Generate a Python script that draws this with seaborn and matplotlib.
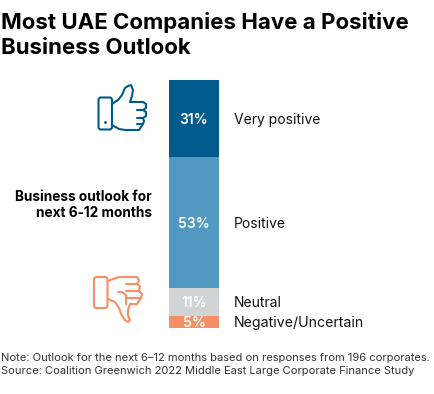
import matplotlib
matplotlib.use('Agg')
import matplotlib.pyplot as plt
from matplotlib.patches import FancyBboxPatch, Circle
import pandas as pd
import seaborn as sns

labels = ['Very positive', 'Positive', 'Neutral', 'Negative/Uncertain']
values = [31, 53, 11, 5]
colors = ['#005A8C', '#5299C1', '#D1D3D4', '#F68F65']
value_text = ['31%', '53%', '11%', '5%']

sns.set_theme(style='white')
plt.rcParams['font.family'] = ['Inter', 'DejaVu Sans']

W, H = 434, 394
fig = plt.figure(figsize=(W / 100, H / 100), dpi=100)

# bar axes, placed in pixels
ax = fig.add_axes([169 / W, 1 - 328 / H, 50 / W, 248 / H])
df = pd.DataFrame({'group': ['a'] * 4, 'label': labels, 'value': values})
bottom = 0
for i in range(4):
    sub = df[df.label == labels[i]]
    sns.barplot(data=sub, x='group', y='value', color=colors[i], saturation=1,
                width=1, bottom=bottom, ax=ax, linewidth=0)
    ax.text(0, bottom + values[i] / 2 + 0.5, value_text[i], color='white', ha='center',
            va='center', fontsize=10, fontweight='semibold')
    bottom += values[i]
ax.set_xlim(-0.5, 0.5)
ax.set_ylim(100, 0)
ax.axis('off')

# overlay in pixel coordinates for text and icons
ov = fig.add_axes([0, 0, 1, 1], zorder=-1)
ov.set_xlim(0, W)
ov.set_ylim(H, 0)
ov.axis('off')

ov.text(1, 29, 'Most UAE Companies Have a Positive', fontsize=16,
        fontweight='bold', color='black', va='baseline', ha='left')
ov.text(1, 54, 'Business Outlook', fontsize=16,
        fontweight='bold', color='black', va='baseline', ha='left')

ov.text(234, 120, labels[0], fontsize=10, color='#111111', va='center')
ov.text(234, 224, labels[1], fontsize=10, color='#111111', va='center')
ov.text(234, 303, labels[2], fontsize=10, color='#111111', va='center')
ov.text(234, 323, labels[3], fontsize=10.2, color='#111111', va='center')

ov.text(152, 205, 'Business outlook for\nnext 6-12 months', fontsize=9.8, fontweight='bold',
        color='black', ha='right', va='center', linespacing=1.25)

ov.text(1, 358, 'Note: Outlook for the next 6–12 months based on responses from 196 corporates.',
        fontsize=8.05, color='#333333', va='center')
ov.text(1, 371, 'Source: Coalition Greenwich 2022 Middle East Large Corporate Finance Study',
        fontsize=8.0, color='#333333', va='center')

# thumb up icon
blue = '#005A8C'
ov.add_patch(FancyBboxPatch((100, 99), 10.5, 29, boxstyle='round,pad=1.5,rounding_size=2.5',
                            fc='none', ec=blue, lw=1.5))
ov.add_patch(Circle((105.5, 122.5), 1.4, fc=blue, ec='none'))
up_x = [112, 118, 122, 125, 128, 131, 133, 132, 130, 143, 146, 146, 143, 146, 146, 143, 144, 143, 139, 125, 119, 112]
up_y = [104, 100, 95, 88, 86, 85, 90, 96, 102, 102, 104, 108, 110, 112, 116, 118, 121, 124, 130, 130, 129, 125]
ov.plot(up_x, up_y, color=blue, lw=1.5, solid_joinstyle='round')
ov.plot([137, 143], [110, 110], color=blue, lw=1.5, solid_capstyle='round')
ov.plot([137, 143], [118, 118], color=blue, lw=1.5, solid_capstyle='round')
ov.plot([137, 143], [124, 124], color=blue, lw=1.5, solid_capstyle='round')

# thumb down icon
orange = '#F68F65'
ov.add_patch(FancyBboxPatch((95.5, 278.5), 10.5, 28, boxstyle='round,pad=1.5,rounding_size=2.5',
                            fc='none', ec=orange, lw=1.5))
dn_x = [108, 113, 119, 125, 137, 139, 137, 140, 139, 142, 141, 137, 130, 128, 128, 130, 128, 125, 121, 119, 115, 108]
dn_y = [281, 279, 277, 277, 277, 280, 284, 286, 291, 294, 298, 304, 304, 310, 316, 320, 322, 320, 314, 308, 302, 299]
ov.plot(dn_x, dn_y, color=orange, lw=1.5, solid_joinstyle='round')
ov.plot([126, 137], [284, 284], color=orange, lw=1.5, solid_capstyle='round')
ov.plot([126, 139], [291, 291], color=orange, lw=1.5, solid_capstyle='round')
ov.plot([126, 141], [298, 298], color=orange, lw=1.5, solid_capstyle='round')
ov.plot([118, 122, 126, 126], [292, 292, 295, 304], color=orange, lw=1.5, solid_capstyle='round')

fig.savefig('out.png', dpi=100, facecolor='white')
